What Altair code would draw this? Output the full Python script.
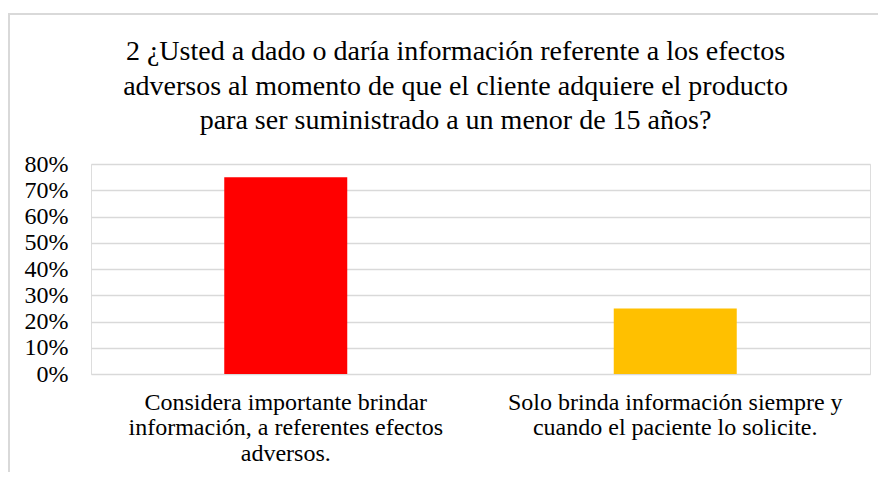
import altair as alt
import pandas as pd

categories = [
    "Considera importante brindar\ninformación, a referentes efectos\nadversos.",
    "Solo brinda información siempre y\ncuando el paciente lo solicite.",
]
values = [0.75, 0.25]
colors = ["#FF0000", "#FFC000"]
title_lines = [
    "2 ¿Usted a dado o daría información referente a los efectos",
    "adversos al momento de que el cliente adquiere el producto",
    "para ser suministrado a un menor de 15 años?",
]
y_ticks = [0, 0.1, 0.2, 0.3, 0.4, 0.5, 0.6, 0.7, 0.8]

df = pd.DataFrame({"cat": categories, "val": values, "color": colors})
FONT = "Liberation Serif"

bars = alt.Chart(df).mark_bar(size=123).encode(
    x=alt.X(
        "cat:N",
        sort=categories,
        scale=alt.Scale(paddingInner=0, paddingOuter=0),
        axis=alt.Axis(
            title=None,
            labelAngle=0,
            labelExpr="split(datum.label, '\\n')",
            labelFont=FONT,
            labelFontSize=24,
            labelColor="#000000",
            labelLineHeight=25.5,
            labelPadding=16,
            labelLimit=0,
            ticks=False,
            domain=False,
            grid=False,
        ),
    ),
    y=alt.Y(
        "val:Q",
        scale=alt.Scale(domain=[0, 0.8], nice=False),
        axis=alt.Axis(
            title=None,
            values=y_ticks,
            format=".0%",
            labelFont=FONT,
            labelFontSize=24,
            labelColor="#000000",
            labelPadding=23,
            ticks=False,
            domain=False,
            grid=True,
            gridColor="#D9D9D9",
            gridWidth=1.5,
        ),
    ),
    color=alt.Color("color:N", scale=None, legend=None),
)

border = alt.Chart(pd.DataFrame({"b": [0]})).mark_rect(
    fill=None, stroke="#D9D9D9", strokeWidth=2
).encode(
    x=alt.value(-82),
    x2=alt.value(860),
    y=alt.value(-150),
    y2=alt.value(330),
)

chart = alt.layer(border, bars).properties(
    width=779,
    height=210,
    padding={"left": 83, "top": 156, "right": 8, "bottom": 98},
    autosize=alt.AutoSizeParams(type="none"),
    title=alt.TitleParams(
        text=title_lines,
        font=FONT,
        fontSize=28,
        fontWeight="normal",
        color="#000000",
        lineHeight=34.5,
        anchor="middle",
        frame="group",
        dx=-25,
        offset=-122,
    ),
).configure_view(stroke=None).configure(background="white")

chart.save("out.html", embed_options={"renderer": "svg", "actions": False})
